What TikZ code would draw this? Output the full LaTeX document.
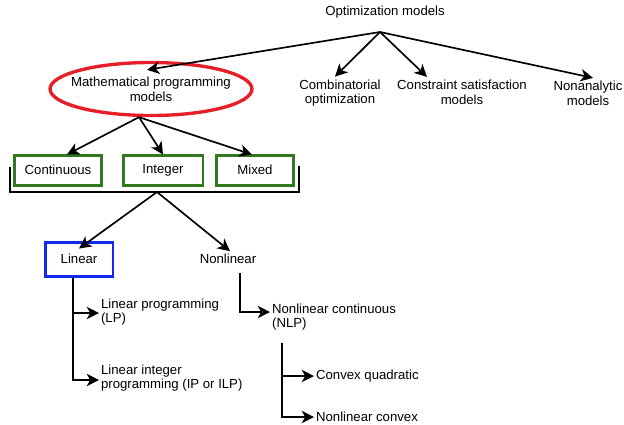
\documentclass[tikz,border=0pt]{standalone}
\usepackage{fontspec}
\setmainfont{Liberation Sans}
\usetikzlibrary{arrows.meta}
\usetikzlibrary{calc}
\usetikzlibrary{shapes.geometric}
\definecolor{boxgreen}{RGB}{50,120,30}
\definecolor{ovalred}{RGB}{230,30,40}
\definecolor{boxblue}{RGB}{20,40,235}

\begin{document}
\begin{tikzpicture}[x=0.02cm, y=-0.02cm,
    font=\fontsize{7.5}{8.3}\selectfont,
    >={Stealth[length=7pt,width=7pt,inset=2pt]},
    link/.style={->, line width=0.95pt},
    label/.style={align=center, inner sep=1.5pt},
    leaf/.style={align=left, anchor=west, inner sep=1pt},
    kind/.style={draw=boxgreen, line width=1.7pt, minimum height=0.6cm, inner sep=0pt},
    oval/.style={ellipse, draw=ovalred, line width=1.9pt, minimum width=4.04cm, minimum height=1.06cm, align=center, inner xsep=-5pt, inner ysep=0pt}]
    \useasboundingbox (0,0) rectangle (624,424);
    % top level
    \node[label] (opt) at (385,12) {Optimization models};
    \coordinate (root) at (380,32);
    \node[oval] (math) at (151,89) {Mathematical programming\\models};
    \node[label] (comb) at (340,93) {Combinatorial\\optimization};
    \node[label] (cons) at (462,92) {Constraint satisfaction\\models};
    \node[label] (nona) at (588,93) {Nonanalytic\\models};
    \draw[link] (root) -- ($(math.north)+(-4,9)$);
    \draw[link] (root) -- ($(comb.north)+(-5,0)$);
    \draw[link] (root) -- ($(cons.north)+(-35,0)$);
    \draw[link] (root) -- ($(nona.north)+(5,0)$);
    % variable kinds
    \node[kind, minimum width=1.74cm] (cont) at (58,170) {Continuous};
    \node[kind, minimum width=1.6cm] (int) at (163,170) {Integer};
    \node[kind, minimum width=1.54cm] (mix) at (255,170) {Mixed};
    \coordinate (mfork) at ($(math.south)+(-12,0)$);
    \draw[link] (mfork) -- ($(cont.north)+(9,1)$);
    \draw[link] (mfork) -- ($(int.north)+(0,1)$);
    \draw[link] (mfork) -- ($(mix.north)+(-3,1)$);
    \draw[line width=0.95pt] (10,167) -- (10,192) -- (299,192) -- (299,166);
    \coordinate (brk) at (157,192);
    % linear / nonlinear
    \node[draw=boxblue, line width=1.7pt, minimum width=1.36cm, minimum height=0.68cm, inner sep=0pt] (lin) at (79,259) {Linear};
    \node[label] (nonlin) at (228,259) {Nonlinear};
    \draw[link] (brk) -- ($(lin.north)+(0,8)$);
    \draw[link] (brk) -- ($(nonlin.north)+(2,0)$);
    \node[leaf] (lp) at (99,312) {Linear programming\\(LP)};
    \node[leaf] (ilp) at (99,378) {Linear integer\\programming (IP or ILP)};
    \draw[link] ($(lin.south)+(-6,0)$) |- ($(ilp.west)+(0,2)$);
    \draw[link] ($(lin.south)+(-6,0)$) |- ($(lp.west)+(0,1)$);
    \node[leaf] (nlp) at (270,317) {Nonlinear continuous\\(NLP)};
    \draw[link] ($(nonlin.south)+(12,6)$) |- ($(nlp.west)+(0,-5)$);
    \node[leaf] (cq) at (314,376) {Convex quadratic};
    \node[leaf] (nc) at (314,417) {Nonlinear convex};
    \draw[link] ($(nlp.south west)+(12,10)$) |- (cq.west);
    \draw[link] ($(nlp.south west)+(12,10)$) |- (nc.west);
\end{tikzpicture}
\end{document}
